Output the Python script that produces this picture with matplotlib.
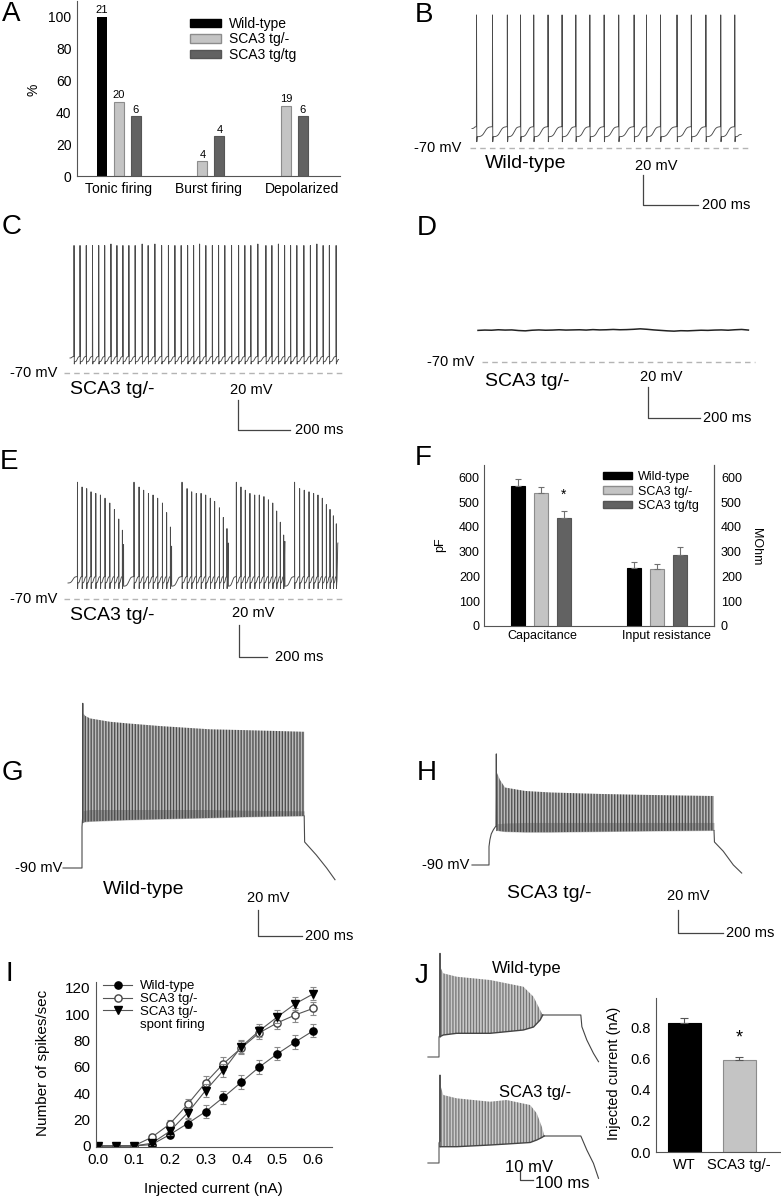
import numpy as np
import matplotlib
matplotlib.use("Agg")
import matplotlib.pyplot as plt
from matplotlib.patches import Patch
from matplotlib.lines import Line2D
from matplotlib.ticker import FormatStrFormatter

W, H = 781, 1199
plt.rcParams["font.family"] = ["Liberation Sans", "DejaVu Sans"]
plt.rcParams["hatch.linewidth"] = 0.6

# ---------------- data ----------------
genotypes = ["Wild-type", "SCA3 tg/-", "SCA3 tg/tg"]

# A: firing pattern, % of cells (n above bars)
a_categories = ["Tonic firing", "Burst firing", "Depolarized"]
a_wt_pct = [100.0, 0.0, 0.0]
a_het_pct = [46.5, 9.3, 44.2]
a_hom_pct = [37.5, 25.0, 37.5]
a_wt_n = [21, 0, 0]
a_het_n = [20, 4, 19]
a_hom_n = [6, 4, 6]

# B: wild-type tonic firing (ms, mV)
b_spike_ms = [16, 74, 128, 176, 224, 276, 327, 377, 428, 480, 533, 589, 634, 685, 745, 797, 850, 904, 955]
b_peak_mv = [18.7, 18.7, 18.7, 18.7, 18.7, 18.7, 18.7, 18.7, 18.7, 18.7,
             18.7, 18.7, 18.7, 18.7, 18.7, 18.7, 18.7, 18.7, 18.7]

# C: SCA3 tg/- tonic firing
c_spike_ms = [15, 38, 62, 86, 110, 133, 157, 180, 203, 226, 250, 277, 300, 326, 352, 378, 403, 427,
              452, 475, 498, 522, 547, 571, 595, 621, 648, 672, 695, 722, 753, 776, 801, 825, 848,
              872, 899, 924, 949, 973, 997, 1023]
c_peak_mv = [15, 15, 15, 15, 15, 15, 16, 15, 15, 15, 15, 16, 15, 16, 15, 15, 15, 15, 15, 15, 16,
             15, 15, 15, 15, 15, 15, 15, 15, 16, 15, 15, 16, 15, 15, 15, 15, 15, 16, 15, 15, 15]

# D: SCA3 tg/- depolarized, silent
d_ms = [0, 26, 52, 78, 104, 130, 156, 182, 208, 234, 260, 286, 312, 338, 364, 390, 416, 442, 468, 494,
        520, 546, 572, 598, 624, 650, 676, 702, 728, 754, 780, 806, 832, 858, 884, 910, 936, 962, 988,
        1014, 1040]
d_mv = [-49.6, -49.4, -49.5, -49.2, -49.4, -49.3, -49.7, -49.9, -49.5, -49.3, -49.5, -49.4, -49.2,
        -49.4, -49.3, -49.2, -49.4, -49.1, -49.3, -49.2, -49.0, -49.2, -49.1, -48.9, -48.6, -48.9,
        -49.3, -49.6, -49.9, -50.1, -49.8, -49.9, -49.7, -49.5, -49.6, -49.4, -49.3, -49.5, -49.2,
        -49.0, -49.4]

# E: SCA3 tg/- burst firing
e_burst_ms = [
    [67, 100, 133, 164, 198, 231, 264, 298, 331, 362, 388],
    [471, 507, 540, 574, 607, 640, 674, 704, 731],
    [814, 850, 883, 916, 950, 983, 1016, 1047, 1081, 1109, 1135],
    [1202, 1235, 1266, 1299, 1333, 1366, 1399, 1431, 1462, 1490, 1516, 1540],
    [1618, 1654, 1687, 1721, 1754, 1785, 1816, 1845, 1871, 1895, 1916],
]
e_burst_mv = [
    [3, 0, -1, -3, -4, -5, -7, -10, -14, -20, -27],
    [3, 0, -2, -4, -5, -7, -10, -16, -25],
    [3, -1, -3, -4, -4, -5, -7, -9, -13, -19, -26],
    [3, 0, -2, -4, -5, -5, -6, -8, -10, -15, -22, -30],
    [3, -1, -2, -3, -4, -5, -7, -11, -14, -18, -23],
]
e_end_ms = [397, 740, 1145, 1549, 1928]
e_end_mv = [-36, -37, -35, -34, -35]

# F: capacitance (pF) and input resistance (MOhm)
f_categories = ["Capacitance", "Input resistance"]
f_wt = [565, 235]
f_wt_err = [29, 24]
f_het = [537, 230]
f_het_err = [24, 20]
f_hom = [438, 286]
f_hom_err = [28, 33]

# G: wild-type, current step (envelopes of dense spike train)
g_lead_ms = [-86, 0, 0, 2.5, 3.5, 4.5]
g_lead_mv = [-90, -90, -58.5, -52, 36.7, -55]
g_env_ms = [5, 15, 36, 127, 203, 355, 582, 732, 885, 1010]
g_env_top = [29.0, 27.0, 25.1, 22.5, 21.3, 19.2, 16.7, 16.1, 15.4, 14.8]
g_env_bottom = [-55.0, -54.5, -54.2, -53.6, -53.1, -52.4, -51.5, -50.8, -50.3, -50.0]
g_band_top = [-46, -45.5, -45, -45, -45, -45, -45, -45.5, -45.8, -46]
g_tail_ms = [1010, 1012, 1065, 1112, 1150]
g_tail_mv = [-50, -70, -80, -90, -99]

# H: SCA3 tg/-, current step
h_lead_ms = [-75.6, 0, 0, 4, 10, 19, 31, 32.5, 34.5]
h_lead_mv = [-90, -90, -74, -68, -63, -59.5, -56, 6.6, -60]
h_env_ms = [36, 49, 71, 160, 271, 493, 716, 1000]
h_env_top = [-10, -16.0, -22.6, -25.6, -26.9, -28.2, -29.1, -30.0]
h_env_bottom = [-60, -60.5, -61, -61.5, -61.5, -61, -60.5, -60]
h_band_top = [-54, -54, -53.5, -53, -53, -53, -53, -53]
h_tail_ms = [1000, 1002, 1041, 1086, 1123]
h_tail_mv = [-60, -70, -78, -90, -97]

# I: frequency-current relation
i_current = [0.0, 0.05, 0.1, 0.15, 0.2, 0.25, 0.3, 0.35, 0.4, 0.45, 0.5, 0.55, 0.6]
i_wt = [0, 0, 0, 1, 8.5, 17, 26, 37, 48.5, 60, 70, 79, 87.5]
i_wt_err = [0, 0, 0, 1, 2, 3.5, 5, 5, 5.5, 5, 5, 5, 5]
i_het = [0, 0, 0, 6.5, 16.5, 31.5, 48, 62.5, 74.5, 86, 93.5, 99.5, 104.5]
i_het_err = [0, 0, 0, 1, 3, 4, 5, 5, 5, 5, 5, 5, 5]
i_spont = [0, 0, 0, 2, 11, 25, 42, 57.5, 75.5, 87.5, 98, 108, 115.5]
i_spont_err = [0, 0, 0, 1, 2.5, 4, 5, 5, 5, 5, 5, 5, 5]

# J: ramp traces and current at depolarization block
j_wt_lead_ms = [-85, 0, 0, 6.5, 7.7, 9]
j_wt_lead_mv = [-70, -70, -50, -48, 33.7, -50]
j_wt_env_ms = [10, 33, 136, 393, 649, 727, 778, 798]
j_wt_top = [20, 13.7, 10.3, 7, 0.3, -9.7, -23, -28]
j_wt_bottom = [-49.5, -48, -46.3, -46.3, -43, -40, -33, -28]
j_wt_tail_ms = [798, 1091, 1099, 1137, 1188, 1227]
j_wt_tail_mv = [-28, -28, -39.7, -53, -66.3, -74.7]

j_het_lead_ms = [-85, 0, 0, 6.5, 7.7, 9]
j_het_lead_mv = [-70, -70, -50, -48, 18, -53.7]
j_het_env_ms = [10, 33, 136, 393, 521, 701, 752, 791, 809]
j_het_top = [8, -2, -5.3, -8.7, -7, -12, -20.3, -33.7, -42]
j_het_bottom = [-53.7, -53.7, -53.7, -52, -51, -49.5, -47, -44.5, -43]
j_het_tail_ms = [809, 1091, 1137, 1188, 1227]
j_het_tail_mv = [-43, -43, -57, -70.3, -85.3]

j_groups = ["WT", "SCA3 tg/-"]
j_block_na = [0.83, 0.59]
j_block_err = [0.03, 0.02]

# ---------------- style ----------------
BAR_FC = ["black", "#c4c4c4", "#626262"]
BAR_EC = ["black", "#8c8c8c", "#555555"]
AXC = "#555555"
TRACE = "#4a4a4a"
DENSE = "|" * 11

fig = plt.figure(figsize=(W / 100, H / 100), dpi=100)


def box(l, t, w, h):
    return [l / W, 1 - (t + h) / H, w / W, h / H]


def label(x, y, s, size=10.5, ha="left", **kw):
    fig.text(x / W, 1 - y / H, s, fontsize=size, ha=ha, va="center", **kw)


def style_axes(ax, left=True, bottom=True, right=False):
    ax.spines["top"].set_visible(False)
    ax.spines["right"].set_visible(right)
    ax.spines["left"].set_visible(left)
    ax.spines["bottom"].set_visible(bottom)
    for s in ax.spines.values():
        s.set_color(AXC)
        s.set_linewidth(0.8)
    ax.tick_params(length=0, colors="black")


def trace_axes(name, x0, y0, v0, ms_px, mv_px):
    # full-figure axes: time 0 at pixel column x0, v0 mV at pixel row y0
    ax = fig.add_axes([0, 0, 1, 1], label=name)
    ax.set_xlim(-x0 * ms_px, (W - x0) * ms_px)
    ax.set_ylim(v0 - (H - y0) * mv_px, v0 + y0 * mv_px)
    ax.set_axis_off()
    return ax


def at(ax, xp, yp):
    return ax.transData.inverted().transform((xp, H - yp))


def scale_bar(ax, xp, yp, dt, dv):
    t, v = at(ax, xp, yp)
    ax.plot([t, t, t + dt], [v + dv, v, v], color="#444444", lw=0.9)


def rest_line(ax, xa, xb, v):
    ta, _ = at(ax, xa, 0)
    tb, _ = at(ax, xb, 0)
    ax.plot([ta, tb], [v, v], color="#b4b4b4", lw=1.0, dashes=(4, 3))


def spikes(t_start, v_start, times, peaks, thr, ahp, trough, t_stop, v_stop):
    s = np.linspace(0, 1, 16)[1:]
    k = np.tanh(2.5)
    shape = (np.tanh(5 * (s - 0.5)) + k) / (2 * k)
    t_out, v_out = [t_start], [v_start]
    t_prev, v_prev = t_start, v_start
    for ts, pk in zip(times, peaks):
        t_out += list(t_prev + (ts - t_prev) * s)
        v_out += list(v_prev + (thr - v_prev) * shape)
        t_out += [ts + 0.5, ts + 1.5, ts + 3.0]
        v_out += [pk, ahp, trough]
        t_prev, v_prev = ts + 3.0, trough
    t_out += list(t_prev + (t_stop - t_prev) * s)
    v_out += list(v_prev + (v_stop - v_prev) * shape)
    return t_out, v_out


# ---------------- A ----------------
axA = fig.add_axes(box(77, 1, 263, 175))
pos = np.arange(3)
for k, (vals, ns) in enumerate(zip([a_wt_pct, a_het_pct, a_hom_pct], [a_wt_n, a_het_n, a_hom_n])):
    xx = pos + (k - 1) * 0.2036
    axA.bar(xx, vals, width=0.12, color=BAR_FC[k], edgecolor=BAR_EC[k], linewidth=0 if k == 0 else 0.8)
    for x, v, n in zip(xx, vals, ns):
        if n:
            axA.text(x, v + 1.0, str(n), ha="center", va="bottom", fontsize=8)
axA.set_xlim(-0.503, 2.65)
axA.set_ylim(0, 110)
axA.set_yticks(range(0, 101, 20))
axA.set_xticks([0, 1.078, 2.19], a_categories)
style_axes(axA)
axA.tick_params(labelsize=10, pad=4)
axA.legend(handles=[Patch(fc=BAR_FC[i], ec=BAR_EC[i]) for i in range(3)], labels=genotypes,
           loc="upper left", bbox_to_anchor=(190 / W, 1 - 17 / H), bbox_transform=fig.transFigure,
           frameon=False, fontsize=10, handlelength=2.2, handleheight=0.55, handletextpad=0.6,
           labelspacing=0.1, borderpad=0, borderaxespad=0)
label(33, 90, "%", size=10, ha="center", rotation=90)

# ---------------- B ----------------
axB = trace_axes("B", 472, 148, -70, 200 / 55, 20 / 30)
tB, vB = spikes(0, -57, b_spike_ms, b_peak_mv, -55.8, -65.8, -62.5, 979, -61)
axB.plot(tB, vB, color=TRACE, lw=0.65)
rest_line(axB, 470, 748, -70)
scale_bar(axB, 643, 205, 200, 20)
label(414, 148, "-70 mV")
label(485, 164, "Wild-type", size=14)
label(635, 166, "20 mV")
label(702, 205, "200 ms")

# ---------------- C ----------------
axC = trace_axes("C", 70, 373, -70, 200 / 52, 20 / 30)
tC, vC = spikes(0, -60, c_spike_ms, c_peak_mv, -59, -64, -62.5, 1033, -61)
axC.plot(tC, vC, color=TRACE, lw=0.65)
rest_line(axC, 64, 343, -70)
scale_bar(axC, 238, 430, 200, 20)
label(10, 373, "-70 mV")
label(70, 390, "SCA3 tg/-", size=14)
label(230, 390, "20 mV")
label(295, 430, "200 ms")

# ---------------- D ----------------
axD = trace_axes("D", 478, 362, -70, 200 / 52, 20 / 31)
axD.plot(d_ms, d_mv, color="#222222", lw=1.1)
rest_line(axD, 482, 755, -70)
scale_bar(axD, 648, 418, 200, 20)
label(427, 362, "-70 mV")
label(485, 382, "SCA3 tg/-", size=14)
label(640, 377, "20 mV")
label(703, 418, "200 ms")

# ---------------- E ----------------
axE = trace_axes("E", 68, 599, -70, 200 / 28, 20 / 32)
t_s, v_s = 0, -60
tE, vE = [], []
for times, peaks, te, ve in zip(e_burst_ms, e_burst_mv, e_end_ms, e_end_mv):
    t, v = spikes(t_s, v_s, times, peaks, -56, -63.5, -60, te, ve)
    tE += t
    vE += v
    t_s, v_s = te + 0.5, -62
axE.plot(tE, vE, color=TRACE, lw=0.65)
rest_line(axE, 64, 345, -70)
scale_bar(axE, 239, 657, 200, 20)
label(10, 599, "-70 mV")
label(70, 615, "SCA3 tg/-", size=14)
label(232, 613, "20 mV")
label(275, 657, "200 ms")

# ---------------- F ----------------
axF = fig.add_axes(box(484, 465, 230, 161))
for k, (vals, errs) in enumerate(zip([f_wt, f_het, f_hom], [f_wt_err, f_het_err, f_hom_err])):
    xx = np.arange(2) + (k - 1) * 0.198
    axF.bar(xx, vals, width=0.12, color=BAR_FC[k], edgecolor=BAR_EC[k], linewidth=0.8,
            yerr=[np.zeros(2), errs], capsize=2.5,
            error_kw=dict(ecolor="#707070", elinewidth=0.8, capthick=0.8))
axF.text(0.198, 531, "*", ha="center", va="center", fontsize=10)
axF.set_xlim(-0.491, 1.491)
axF.set_ylim(0, 650)
axF.set_yticks(range(0, 601, 100))
axF.set_xticks([0.009, 1.078], f_categories)
style_axes(axF, right=True)
axF.tick_params(labelsize=9, pad=3)
axF2 = axF.twinx()
axF2.set_ylim(0, 650)
axF2.set_yticks(range(0, 601, 100))
style_axes(axF2, left=False, bottom=False, right=True)
axF2.tick_params(labelsize=9, pad=5)
axF.legend(handles=[Patch(fc=BAR_FC[i], ec=BAR_EC[i]) for i in range(3)], labels=genotypes,
           loc="upper left", bbox_to_anchor=(603 / W, 1 - 471 / H), bbox_transform=fig.transFigure,
           frameon=False, fontsize=9, handlelength=2.3, handleheight=0.55, handletextpad=0.5,
           labelspacing=0.2, borderpad=0, borderaxespad=0)
label(440, 545, "pF", size=9, ha="center", rotation=90)
label(756, 547, "MOhm", size=9, ha="center", rotation=270)

# ---------------- G ----------------
axG = trace_axes("G", 82, 868, -90, 200 / 44, 20 / 26)
axG.plot(g_lead_ms, g_lead_mv, color=TRACE, lw=0.8)
axG.fill_between(g_env_ms, g_env_bottom, g_env_top, facecolor="none", edgecolor="#2a2a2a",
                 hatch=DENSE, linewidth=0)
axG.fill_between(g_env_ms, g_env_bottom, g_band_top, color="#4a4a4a", alpha=0.35, linewidth=0)
axG.plot(g_tail_ms, g_tail_mv, color=TRACE, lw=0.8)
scale_bar(axG, 258, 936, 200, 20)
label(15, 868, "-90 mV")
label(103, 889, "Wild-type", size=14)
label(247, 898, "20 mV")
label(305, 936, "200 ms")

# ---------------- H ----------------
axH = trace_axes("H", 489, 865, -90, 200 / 45, 20 / 23)
axH.plot(h_lead_ms, h_lead_mv, color=TRACE, lw=0.8)
axH.fill_between(h_env_ms, h_env_bottom, h_env_top, facecolor="none", edgecolor="#2a2a2a",
                 hatch=DENSE, linewidth=0)
axH.fill_between(h_env_ms, h_env_bottom, h_band_top, color="#4a4a4a", alpha=0.35, linewidth=0)
axH.plot(h_tail_ms, h_tail_mv, color=TRACE, lw=0.8)
scale_bar(axH, 678, 933, 200, 20)
label(422, 865, "-90 mV")
label(507, 893, "SCA3 tg/-", size=14)
label(667, 896, "20 mV")
label(726, 933, "200 ms")

# ---------------- I ----------------
axI = fig.add_axes(box(96, 982, 236, 165))
series = [(i_wt, i_wt_err, dict(marker="o", mfc="black", mec="black")),
          (i_het, i_het_err, dict(marker="o", mfc="white", mec="#444444")),
          (i_spont, i_spont_err, dict(marker="v", mfc="black", mec="black"))]
handles = []
for vals, errs, mk in series:
    axI.errorbar(i_current, vals, yerr=errs, fmt="none", ecolor="#8a8a8a", elinewidth=0.8,
                 capsize=2.5, capthick=0.8)
    ln, = axI.plot(i_current, vals, color="#555555", lw=0.8, ms=5.2, **mk)
    handles.append(ln)
axI.set_xlim(-0.0047, 0.652)
axI.set_ylim(-0.8, 124.5)
axI.set_xticks(i_current[::2])
axI.xaxis.set_major_formatter(FormatStrFormatter("%.1f"))
axI.set_yticks(range(0, 121, 20))
style_axes(axI)
axI.tick_params(labelsize=11, pad=4)
handles.append(Line2D([], [], color="none"))
axI.legend(handles=handles, labels=["Wild-type", "SCA3 tg/-", "SCA3 tg/-", "spont firing"],
           loc="upper left", bbox_to_anchor=(103 / W, 1 - 980 / H), bbox_transform=fig.transFigure,
           frameon=False, fontsize=9.5, handlelength=2.2, handletextpad=0.6, labelspacing=0.05,
           borderpad=0, borderaxespad=0)
label(43, 1063, "Number of spikes/sec", size=11, ha="center", rotation=90)
label(213, 1189, "Injected current (nA)", size=11, ha="center")

# ---------------- J ----------------
axJ1 = trace_axes("J1", 439, 1057, -70, 100 / 13, 1.0)
axJ1.plot(j_wt_lead_ms, j_wt_lead_mv, color="#555555", lw=0.8)
axJ1.fill_between(j_wt_env_ms, j_wt_bottom, j_wt_top, facecolor="none", edgecolor="#5c5c5c",
                  hatch=DENSE, linewidth=0)
axJ1.plot(j_wt_env_ms, j_wt_bottom, color="#444444", lw=1.0)
axJ1.plot(j_wt_tail_ms, j_wt_tail_mv, color="#444444", lw=0.8)

axJ2 = trace_axes("J2", 439, 1163, -70, 100 / 13, 1.0)
axJ2.plot(j_het_lead_ms, j_het_lead_mv, color="#555555", lw=0.8)
axJ2.fill_between(j_het_env_ms, j_het_bottom, j_het_top, facecolor="none", edgecolor="#5c5c5c",
                  hatch=DENSE, linewidth=0)
axJ2.plot(j_het_env_ms, j_het_bottom, color="#444444", lw=1.0)
axJ2.plot(j_het_tail_ms, j_het_tail_mv, color="#444444", lw=0.8)
scale_bar(axJ2, 520, 1180, 100, 10)
label(527, 968, "Wild-type", size=12, ha="center")
label(535, 1092, "SCA3 tg/-", size=12, ha="center")
label(505, 1167, "10 mV", size=12)
label(535, 1183, "100 ms", size=12)

axJ = fig.add_axes(box(656, 998, 125, 154))
axJ.bar([0, 1], j_block_na, width=0.6, color=["black", "#c4c4c4"], edgecolor=["black", "#8c8c8c"],
        linewidth=0.8, yerr=[[0, 0], j_block_err], capsize=3,
        error_kw=dict(ecolor="#555555", elinewidth=0.8, capthick=0.8))
axJ.text(1, 0.73, "*", ha="center", va="center", fontsize=13)
axJ.set_xlim(-0.509, 1.76)
axJ.set_ylim(0, 0.99)
axJ.set_yticks([0.0, 0.2, 0.4, 0.6, 0.8])
axJ.yaxis.set_major_formatter(FormatStrFormatter("%.1f"))
axJ.set_xticks([0, 1], j_groups)
style_axes(axJ)
axJ.tick_params(labelsize=10.5, pad=4)
label(614, 1073, "Injected current (nA)", size=10.5, ha="center", rotation=90)

# ---------------- panel letters ----------------
for s, x, y in [("A", 2, 14), ("B", 415, 15), ("C", 2, 227), ("D", 417, 228), ("E", 0, 462),
                ("F", 415, 458), ("G", 2, 773), ("H", 417, 773), ("I", 6, 974), ("J", 415, 976)]:
    label(x, y, s, size=20)

fig.savefig("out.png", dpi=100)
